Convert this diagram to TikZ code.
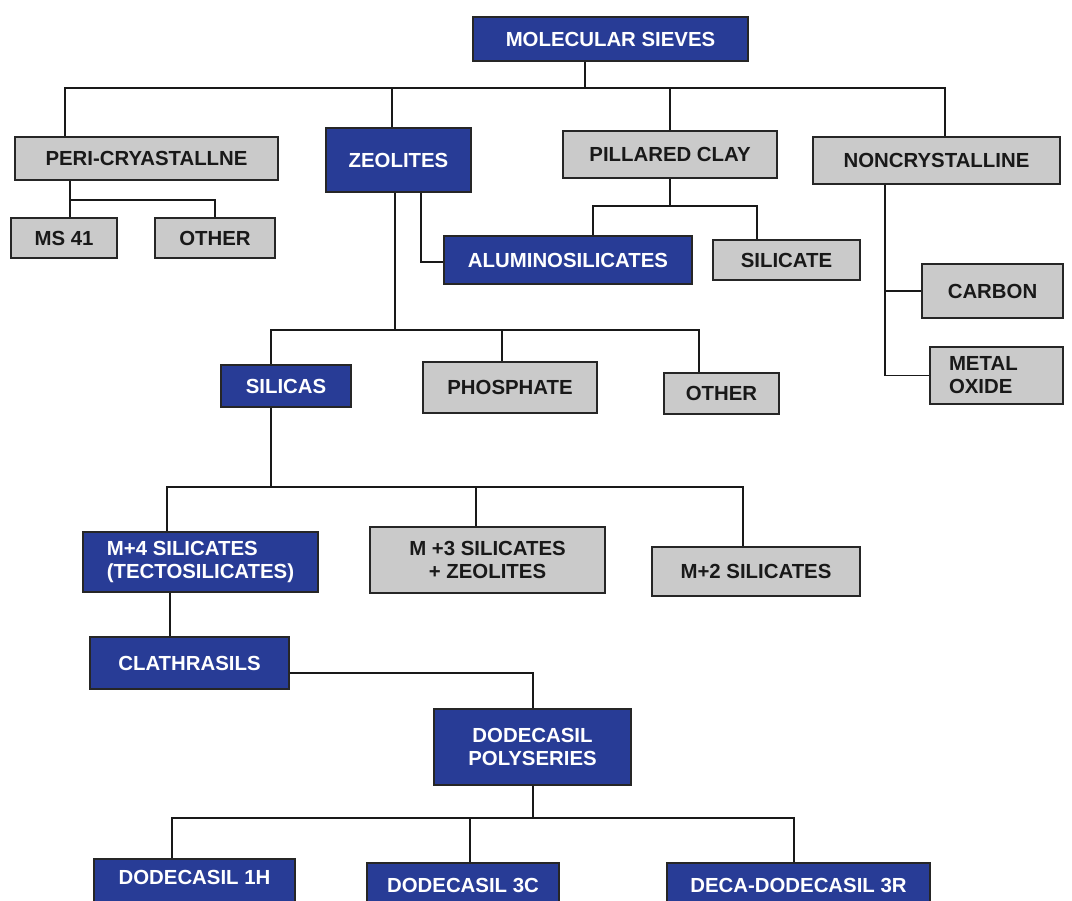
\documentclass[tikz,border=0pt]{standalone}
\usepackage{fontspec}
\setmainfont{Liberation Sans}
\usepackage{xcolor}
\definecolor{sieveblue}{RGB}{40,60,150}
\definecolor{sievegrey}{RGB}{202,202,202}
\begin{document}
\begin{tikzpicture}[x=0.02cm, y=-0.02cm,
      every node/.style={draw=black!85, line width=0.9pt, inner sep=3pt,
      font=\bfseries\fontsize{11.6}{13}\selectfont},
      bluebox/.style={fill=sieveblue, text=white},
      greybox/.style={fill=sievegrey, text=black!90},
      link/.style={line width=1pt, black!90} ]
  \clip (0,0) rectangle (1072,901);
  \fill[white] (0,0) rectangle (1072,901);
  % boxes
  \node[bluebox, minimum width=5.5cm, minimum height=0.88cm] (sieves) at (610.5,39) {MOLECULAR SIEVES};
  \node[greybox, minimum width=5.26cm, minimum height=0.86cm] (peri) at (146.5,158.5) {PERI-CRYASTALLNE};
  \node[bluebox, minimum width=2.9cm, minimum height=1.28cm] (zeo) at (398.5,160) {ZEOLITES};
  \node[greybox, minimum width=4.28cm, minimum height=0.94cm] (clay) at (670,154.5) {PILLARED CLAY};
  \node[greybox, minimum width=4.94cm, minimum height=0.94cm] (noncr) at (936.5,160.5) {NONCRYSTALLINE};
  \node[greybox, minimum width=2.12cm, minimum height=0.8cm] (ms) at (64,238) {MS 41};
  \node[greybox, minimum width=2.4cm, minimum height=0.8cm] (otherA) at (215,238) {OTHER};
  \node[bluebox, minimum width=4.96cm, minimum height=0.96cm] (alumino) at (568,260) {ALUMINOSILICATES};
  \node[greybox, minimum width=2.94cm, minimum height=0.8cm] (silicate) at (786.5,260) {SILICATE};
  \node[greybox, minimum width=2.82cm, minimum height=1.08cm] (carbon) at (992.5,291) {CARBON};
  \node[greybox, minimum width=2.66cm, minimum height=1.14cm, text width=1.9cm, align=left] (metal) at (996.5,375.5) {METAL\\OXIDE};
  \node[bluebox, minimum width=2.6cm, minimum height=0.84cm] (silicas) at (286,386) {SILICAS};
  \node[greybox, minimum width=3.48cm, minimum height=1.02cm] (phosph) at (510,387.5) {PHOSPHATE};
  \node[greybox, minimum width=2.3cm, minimum height=0.82cm] (otherB) at (721.5,393.5) {OTHER};
  \node[bluebox, minimum width=4.7cm, minimum height=1.2cm, align=left] (mfour) at (200.5,562) {M+4 SILICATES\\(TECTOSILICATES)};
  \node[greybox, minimum width=4.7cm, minimum height=1.32cm, align=center] (mthree) at (487.5,560) {M +3 SILICATES\\+ ZEOLITES};
  \node[greybox, minimum width=4.16cm, minimum height=0.98cm] (mtwo) at (756,571.5) {M+2 SILICATES};
  \node[bluebox, minimum width=3.98cm, minimum height=1.04cm] (clath) at (189.5,663) {CLATHRASILS};
  \node[bluebox, minimum width=3.94cm, minimum height=1.52cm, align=center] (polyser) at (532.5,747) {DODECASIL\\POLYSERIES};
  \node[bluebox, anchor=north, minimum width=4.02cm, text height=8.3pt, text depth=1cm, inner ysep=6.4pt] (oneh) at (194.5,858) {DODECASIL 1H};
  \node[bluebox, anchor=north, minimum width=3.84cm, text height=8.3pt, text depth=1cm, inner ysep=8.4pt] (threec) at (463,862) {DODECASIL 3C};
  \node[bluebox, anchor=north, minimum width=5.26cm, text height=8.3pt, text depth=1cm, inner ysep=8.4pt] (threer) at (798.5,862) {DECA-DODECASIL 3R};
  % junctions
  \coordinate (jTop) at (585,88);
  \coordinate (jPeri) at (65,88);
  \coordinate (jZeo) at (392,88);
  \coordinate (jNon) at (945,88);
  \coordinate (jPs) at (70,200);
  \coordinate (jZs) at (395,330);
  \coordinate (jZa) at (421,262);
  \coordinate (jSa) at (271,330);
  \coordinate (jSb) at (502,330);
  \coordinate (jSc) at (699,330);
  \coordinate (jCa) at (593,206);
  \coordinate (jCb) at (757,206);
  \coordinate (jNs) at (885,191);
  \coordinate (jMa) at (167,487);
  \coordinate (jMb) at (476,487);
  \coordinate (jMc) at (743,487);
  \coordinate (jCl) at (170,600);
  \coordinate (jCp) at (533,673);
  \coordinate (jDa) at (172,818);
  \coordinate (jDb) at (470,818);
  \coordinate (jDc) at (794,818);
  % connectors
  \draw[link] (sieves.south -| jTop) -- (jTop);
  \draw[link] (peri.north -| jPeri) -- (jPeri) -- (jNon) -- (noncr.north -| jNon);
  \draw[link] (zeo.north -| jZeo) -- (jZeo);
  \draw[link] (clay.north) -- (clay.north |- jTop);
  \draw[link] (peri.south -| jPs) -- (ms.north -| jPs);
  \draw[link] (jPs) -| (otherA.north);
  \draw[link] (zeo.south -| jZs) -- (jZs);
  \draw[link] (zeo.south -| jZa) -- (jZa) -- (alumino.west |- jZa);
  \draw[link] (silicas.north -| jSa) -- (jSa) -- (jSc) -- (otherB.north -| jSc);
  \draw[link] (jSb) -- (phosph.north -| jSb);
  \draw[link] (clay.south) -- (clay.south |- jCa);
  \draw[link] (alumino.north -| jCa) -- (jCa) -- (jCb) -- (silicate.north -| jCb);
  \draw[link] (noncr.south -| jNs) -- (metal.west -| jNs) -- (metal.west);
  \draw[link] (carbon.west -| jNs) -- (carbon.west);
  \draw[link] (silicas.south -| jSa) -- (jMa -| jSa);
  \draw[link] (mfour.north -| jMa) -- (jMa) -- (jMc) -- (mtwo.north -| jMc);
  \draw[link] (jMb) -- (mthree.north -| jMb);
  \draw[link] (mfour.south -| jCl) -- (clath.north -| jCl);
  \draw[link] (clath.east |- jCp) -- (jCp) -- (polyser.north -| jCp);
  \draw[link] (polyser.south -| jCp) -- (jDa -| jCp);
  \draw[link] (oneh.north -| jDa) -- (jDa) -- (jDc) -- (threer.north -| jDc);
  \draw[link] (jDb) -- (threec.north -| jDb);
\end{tikzpicture}
\end{document}
